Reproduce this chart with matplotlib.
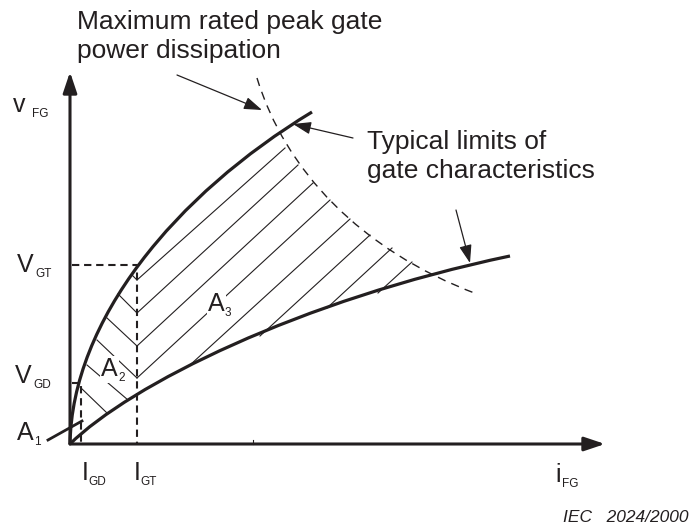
import matplotlib
matplotlib.use('Agg')
from matplotlib import pyplot as plt
from matplotlib.path import Path
from matplotlib.patches import PathPatch

plt.rcParams['font.family'] = ['Liberation Sans', 'DejaVu Sans']

INK = '#231f20'

# all coordinates are picture pixels (x to the right, y downwards)
origin = (70, 444)
y_axis_top = 72
x_axis_end = 605

# curves as cubic bezier control points: start, ctrl1, ctrl2, end
upper_curve = [(70, 444), (72, 320), (175, 195), (312, 112)]   # typical upper limit
lower_curve = [(70, 444), (130, 385), (300, 300), (510, 256)]  # typical lower limit
power_curve = [(257, 78), (285, 170), (360, 250), (477, 294)]  # peak gate power

# V_GT / I_GT and V_GD / I_GD guide points
v_gt, i_gt = 265, 137
v_gd, i_gd = 383, 81

# hatch in A2 (down-right) and A3 (up-right)
hatch_a2 = [((132, 275), (137, 280)), ((118, 294), (137, 313)), ((107, 318), (137, 346)),
            ((97, 340), (137, 378)), ((87, 365), (128, 400)), ((80, 387), (107, 413))]
hatch_a3 = [((137, 280), (285, 148)), ((137, 313), (298, 165)), ((137, 346), (313, 183)),
            ((137, 378), (330, 200)), ((190, 365), (350, 219)), ((260, 336), (370, 235)),
            ((327, 308), (392, 248)), ((378, 293), (412, 262))]

fig = plt.figure(figsize=(6.95, 5.27), dpi=100)
ax = fig.add_axes([0, 0, 1, 1])
ax.set_xlim(0, 695)
ax.set_ylim(527, 0)
ax.axis('off')

def arrow(start, tip, lw, hl, hw):
    ax.annotate('', xy=tip, xytext=start,
                arrowprops=dict(arrowstyle='-|>,head_length=%s,head_width=%s' % (hl, hw),
                                lw=lw, color=INK, shrinkA=0, shrinkB=0, mutation_scale=10))

def bezier(pts, **kw):
    path = Path(pts, [Path.MOVETO, Path.CURVE4, Path.CURVE4, Path.CURVE4])
    ax.add_patch(PathPatch(path, fc='none', ec=INK, **kw))

# axes
arrow(origin, (origin[0], y_axis_top), 2.2, 1.25, 0.42)
arrow(origin, (x_axis_end, origin[1]), 2.2, 1.25, 0.42)
ax.plot([253, 253], [440, 444], color=INK, lw=0.8)

# dashed guides
dash = dict(color=INK, lw=1.5, linestyle=(0, (3.5, 2.3)))
ax.plot([origin[0] + 2, i_gt, i_gt], [v_gt, v_gt, origin[1]], **dash)
ax.plot([origin[0] + 2, i_gd, i_gd], [v_gd, v_gd, origin[1]], **dash)

# hatch
for (x0, y0), (x1, y1) in hatch_a2 + hatch_a3:
    ax.plot([x0, x1], [y0, y1], color=INK, lw=0.8)

# curves
bezier(upper_curve, lw=2.3, capstyle='butt')
bezier(lower_curve, lw=2.3, capstyle='butt')
bezier(power_curve, lw=1.0, linestyle=(0, (6, 4.5)))

# A1 leader
ax.plot([48, 82], [440, 421], color=INK, lw=2.0)

# leader arrows
arrow((177, 75), (262, 110), 0.9, 1.1, 0.38)
arrow((353, 138), (293, 124), 0.9, 1.1, 0.38)
arrow((456, 210), (470, 263), 0.9, 1.1, 0.38)

def label(x, y, main, sub, size=18, subsize=8.5, dx=18, dy=5, bg=False):
    kw = dict(bbox=dict(fc='white', ec='none', pad=1)) if bg else {}
    ax.text(x, y, main, fontsize=size, color=INK, va='baseline', ha='left', zorder=5, **kw)
    ax.text(x + dx, y + dy, sub, fontsize=subsize, color=INK, va='baseline', ha='left', zorder=5)

label(13, 112, 'v', 'FG', dx=19)
label(17, 272, 'V', 'GT')
label(15, 383, 'V', 'GD')
label(17, 440, 'A', '1', dx=17)
label(82, 480, 'I', 'GD', dx=6)
label(134, 480, 'I', 'GT', dx=6)
label(555, 482, 'i', 'FG', dx=7)
label(101, 376, 'A', '2', dx=17, bg=True)
label(208, 311, 'A', '3', dx=17, bg=True)

ax.text(77, 29, 'Maximum rated peak gate', fontsize=19, color=INK, va='baseline')
ax.text(77, 58, 'power dissipation', fontsize=19, color=INK, va='baseline')
ax.text(367, 149, 'Typical limits of', fontsize=19, color=INK, va='baseline')
ax.text(367, 178, 'gate characteristics', fontsize=19, color=INK, va='baseline')
ax.text(563, 522, 'IEC   2024/2000', fontsize=12.5, color=INK, style='italic', va='baseline')

fig.savefig('out.png', dpi=100)
